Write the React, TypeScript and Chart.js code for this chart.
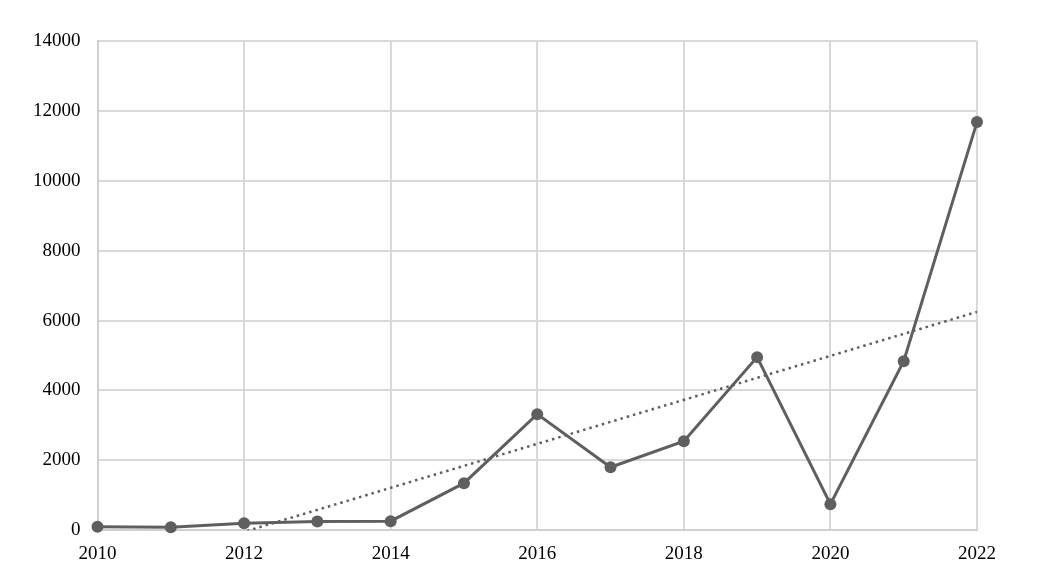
import React, { useEffect, useRef } from "react";
import { Chart, registerables } from "chart.js";

Chart.register(...registerables);

const years = [2010, 2011, 2012, 2013, 2014, 2015, 2016, 2017, 2018, 2019, 2020, 2021, 2022];
const values = [100, 86, 200, 250, 258, 1345, 3321, 1803, 2548, 4953, 744, 4838, 11680];
const xTicks = [2010, 2012, 2014, 2016, 2018, 2020, 2022];
const yTicks = [0, 2000, 4000, 6000, 8000, 10000, 12000, 14000];

function linearTrend(xs: number[], ys: number[]) {
  const n = xs.length;
  const mx = xs.reduce((a, b) => a + b, 0) / n;
  const my = ys.reduce((a, b) => a + b, 0) / n;
  let sxy = 0;
  let sxx = 0;
  for (let i = 0; i < n; i++) {
    sxy += (xs[i] - mx) * (ys[i] - my);
    sxx += (xs[i] - mx) * (xs[i] - mx);
  }
  const slope = sxy / sxx;
  const b = my - slope * mx;
  return (x: number) => slope * x + b;
}

export default function App() {
  const ref = useRef<HTMLCanvasElement>(null);
  useEffect(() => {
    if (!ref.current) return;
    const trend = linearTrend(years, values);
    const first = years[0];
    const last = years[years.length - 1];
    const font = { family: "'Liberation Serif', 'Times New Roman', serif", size: 19 };
    const chart = new Chart(ref.current, {
      type: "line",
      data: {
        datasets: [
          {
            data: years.map((x, i) => ({ x, y: values[i] })),
            borderColor: "#5f5f5f",
            backgroundColor: "#5f5f5f",
            borderWidth: 3,
            pointRadius: 6,
            pointBorderWidth: 0,
            tension: 0,
            clip: false,
            order: 1,
          },
          {
            data: [
              { x: first, y: trend(first) },
              { x: last, y: trend(last) },
            ],
            borderColor: "#5f5f5f",
            borderWidth: 2.5,
            borderDash: [2.5, 4],
            pointRadius: 0,
            order: 2,
          },
        ],
      },
      options: {
        animation: false,
        responsive: false,
        layout: { padding: { left: 16, right: 75, top: 41, bottom: 10 } },
        plugins: { legend: { display: false }, tooltip: { enabled: false } },
        scales: {
          x: {
            type: "linear",
            min: 2010,
            max: 2022,
            afterBuildTicks: (axis: any) => {
              axis.ticks = xTicks.map((v) => ({ value: v }));
            },
            ticks: { color: "#000", font, padding: 12, maxRotation: 0, callback: (v: any) => String(v) },
            grid: { color: "#d9d9d9", lineWidth: 2, drawTicks: false },
            border: { color: "#d0d0d0", width: 2 },
          },
          y: {
            min: 0,
            max: 14000,
            afterBuildTicks: (axis: any) => {
              axis.ticks = yTicks.map((v) => ({ value: v }));
            },
            ticks: { color: "#000", font, padding: 17, callback: (v: any) => String(v) },
            grid: { color: "#d9d9d9", lineWidth: 2, drawTicks: false },
            border: { color: "#d0d0d0", width: 2 },
          },
        },
      },
    });
    return () => chart.destroy();
  }, []);
  return (
    <div style={{ position: "absolute", left: 0, top: 0, width: 1052, height: 587, background: "#fff" }}>
      <canvas ref={ref} width={1052} height={587} />
    </div>
  );
}
